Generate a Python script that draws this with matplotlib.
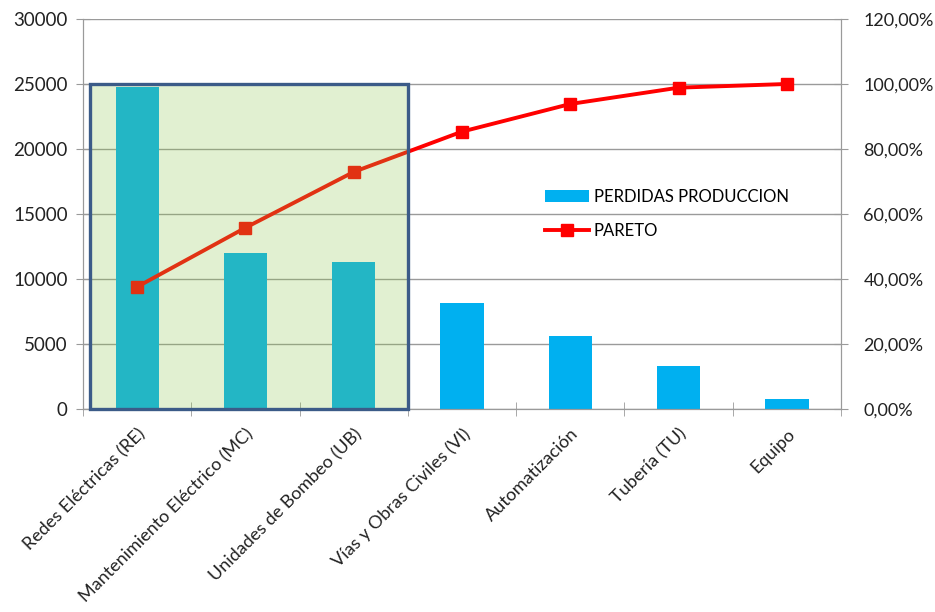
import numpy as np
import matplotlib
matplotlib.use("Agg")
import matplotlib.pyplot as plt
from matplotlib.patches import Rectangle
from matplotlib.ticker import FuncFormatter, FixedLocator

plt.rcParams["font.family"] = ["Lato", "DejaVu Sans"]

categorias = ["Redes Eléctricas (RE)", "Mantenimiento Eléctrico (MC)", "Unidades de Bombeo (UB)",
              "Vías y Obras Civiles (VI)", "Automatización", "Tubería (TU)", "Equipo"]
perdidas = [24800, 12000, 11330, 8180, 5610, 3310, 750]
grupo_critico = 3  # primeras categorias dentro del recuadro

pareto = np.cumsum(perdidas) / np.sum(perdidas) * 100

AZUL = "#00B0F0"; ROJO = "#FF0000"; GRIS = "#9A9A9A"; TXT = "#222222"
x = np.arange(len(categorias))

fig = plt.figure(figsize=(9.35, 6.12), dpi=100)
ax = fig.add_axes([0.0888, 0.3317, 0.8107, 0.6373])
ax2 = ax.twinx()

ax.bar(x, perdidas, width=0.40, color=AZUL, zorder=2, label="PERDIDAS PRODUCCION")
ax.set_xlim(-0.5, len(categorias) - 0.5)
ax.set_ylim(0, 30000)
ax.set_yticks(np.arange(0, 30001, 5000))
ax.grid(axis="y", color=GRIS, lw=1, zorder=0)
ax.set_axisbelow(True)

ax2.plot(x, pareto, color=ROJO, lw=2.8, marker="s", ms=9, zorder=3, label="PARETO")
ax2.set_ylim(0, 120)
ax2.set_yticks(np.arange(0, 121, 20))
ax2.yaxis.set_major_formatter(FuncFormatter(lambda v, p: f"{v:.2f}%".replace(".", ",")))

# recuadro semitransparente sobre las categorias criticas
x0 = -0.435; ancho = grupo_critico - 0.5 - x0
ax2.add_patch(Rectangle((x0, 0), ancho, 25000, transform=ax.transData,
                        facecolor="#8DC84B", alpha=0.255, edgecolor="none", zorder=5))
ax2.add_patch(Rectangle((x0, 0), ancho, 25000, transform=ax.transData,
                        facecolor="none", edgecolor="#3B5B88", lw=2.4, zorder=6, clip_on=False))

for a in (ax, ax2):
    a.spines["top"].set_visible(False)
    for s in ("left", "right", "bottom"):
        a.spines[s].set_color(GRIS)
ax.tick_params(axis="y", direction="inout", length=10, color=GRIS, labelsize=13.5,
               labelcolor=TXT, pad=6)
ax2.tick_params(axis="y", direction="inout", length=10, color=GRIS, labelsize=13,
                labelcolor=TXT, pad=11)

ax.set_xticks(x)
ax.set_xticklabels(categorias, rotation=45, ha="right", va="top", rotation_mode="anchor",
                   fontsize=13, color=TXT)
ax.xaxis.set_minor_locator(FixedLocator(np.arange(-0.5, len(categorias), 1)))
ax.tick_params(axis="x", which="major", length=0, pad=12)
ax.tick_params(axis="x", which="minor", direction="inout", length=10, color=GRIS)

h1, l1 = ax.get_legend_handles_labels()
h2, l2 = ax2.get_legend_handles_labels()
ax2.legend(h1 + h2, l1 + l2, loc="upper left", bbox_to_anchor=(0.59, 0.603), frameon=False,
           fontsize=12, handlelength=2.6, handletextpad=0.3, labelspacing=1.1)

fig.savefig("out.png", dpi=100)
